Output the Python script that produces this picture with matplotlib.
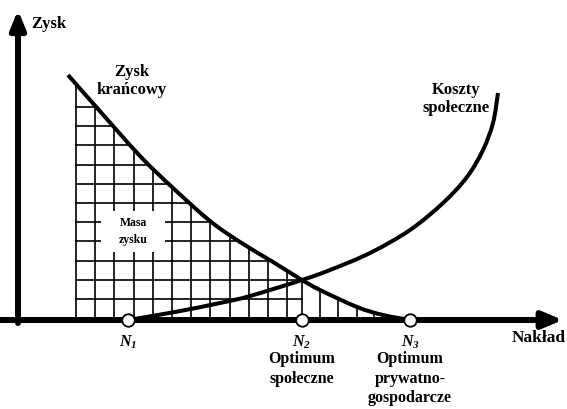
import numpy as np
import matplotlib
matplotlib.use("Agg")
import matplotlib.pyplot as plt
from matplotlib.patches import PathPatch, Rectangle
from matplotlib.path import Path

plt.rcParams['font.family'] = ['Liberation Serif', 'DejaVu Serif']
plt.rcParams['font.weight'] = 'bold'
plt.rcParams['mathtext.fontset'] = 'custom'
plt.rcParams['mathtext.rm'] = 'Liberation Serif:bold:italic'
plt.rcParams['mathtext.it'] = 'Liberation Serif:bold:italic'

# krzywa zysku krancowego (naklad, zysk)
zysk_x = [50, 80, 122, 155, 192, 222, 255, 284, 302, 339, 365, 392]
zysk_y = [245, 211, 164, 132, 99, 78, 58, 40, 30, 13, 5, 0]

# krzywa kosztow spolecznych
koszty_x = [110, 157, 202, 232, 284, 312, 352, 392, 425, 449, 465, 475, 480]
koszty_y = [0, 8, 17, 24, 40, 50, 67, 90, 117, 143, 170, 197, 227]

# punkty N1, N2, N3 na osi nakladu
punkty_x = [110, 284, 392]
punkty_lbl = [r'$N_1$', r'$N_2$', r'$N_3$']
punkty_opis = ['', 'Optimum\nspołeczne', 'Optimum\nprywatno-\ngospodarcze']

# siatka "masa zysku"
siatka_x = np.arange(58, 280, 19.2)
siatka_x_prawa = [302, 320, 339, 356, 374]
siatka_y = np.arange(21, 215, 19.2)


def gladka(xs, ys):
    # krzywa Beziera przez odczytane punkty (Catmull-Rom)
    p = np.column_stack([xs, ys]).astype(float)
    n = len(p)
    verts = [p[0]]
    codes = [Path.MOVETO]
    for i in range(n - 1):
        p0 = p[max(i - 1, 0)]
        p1 = p[i]
        p2 = p[i + 1]
        p3 = p[min(i + 2, n - 1)]
        verts += [p1 + (p2 - p0) / 6, p2 - (p3 - p1) / 6, p2]
        codes += [Path.CURVE4] * 3
    return verts, codes


fig = plt.figure(figsize=(5.67, 4.09), dpi=100)
ax = fig.add_axes([0, 0, 1, 1])
ax.set_xlim(-18, 549)
ax.set_ylim(-89, 320)
ax.axis('off')

zv, zc = gladka(zysk_x, zysk_y)
kv, kc = gladka(koszty_x, koszty_y)

# obszar przyciecia siatki pod krzywa zysku
clip = PathPatch(Path(zv + [(50, 0), (0, 0)], zc + [Path.LINETO, Path.CLOSEPOLY]),
                 transform=ax.transData, facecolor='none', edgecolor='none')
ax.add_patch(clip)

for y in siatka_y:
    ln, = ax.plot([58, punkty_x[1]], [y, y], color='black', lw=1.2, zorder=1)
    ln.set_clip_path(clip)
for x in list(siatka_x) + [punkty_x[1]] + siatka_x_prawa:
    ln, = ax.plot([x, x], [0, 260], color='black', lw=1.2, zorder=1)
    ln.set_clip_path(clip)

# okienko na napis
ax.add_patch(Rectangle((83, 68), 64, 41, facecolor='white', edgecolor='none', zorder=2))
ax.text(115, 97, 'Masa', ha='center', va='center', fontsize=8.5, zorder=3)
ax.text(115, 80, 'zysku', ha='center', va='center', fontsize=8.5, zorder=3)

ax.add_patch(PathPatch(Path(zv, zc), facecolor='none', edgecolor='black', lw=2.9,
                       capstyle='butt', zorder=3))
ax.add_patch(PathPatch(Path(kv, kc), facecolor='none', edgecolor='black', lw=2.9,
                       capstyle='butt', zorder=3))

# osie
ax.annotate('', xy=(545, 0), xytext=(-18, 0),
            arrowprops=dict(arrowstyle='-|>,head_length=1.2,head_width=0.5',
                            lw=4.3, color='black', mutation_scale=10,
                            shrinkA=0, shrinkB=0), zorder=4)
ax.annotate('', xy=(0, 310), xytext=(0, -3),
            arrowprops=dict(arrowstyle='-|>,head_length=1.1,head_width=0.45',
                            lw=4.3, color='black', mutation_scale=10,
                            shrinkA=0, shrinkB=0), zorder=4)

ax.plot(punkty_x, [0] * len(punkty_x), 'o', ms=9, mfc='white', mec='black',
        mew=1.3, zorder=5, clip_on=False)

for x, lbl, opis in zip(punkty_x, punkty_lbl, punkty_opis):
    ax.text(x, -22, lbl, ha='center', va='center', fontsize=11.5)
    if opis:
        ax.text(x, -31, opis, ha='center', va='top', fontsize=11.5, linespacing=1.3)

ax.text(13, 296, 'Zysk', ha='left', va='center', fontsize=12)
ax.text(521, -18, 'Nakład', ha='center', va='center', fontsize=12.5)
ax.text(114, 239, 'Zysk\nkrańcowy', ha='center', va='center', fontsize=12,
        linespacing=1.25)
ax.text(438, 221, 'Koszty\nspołeczne', ha='center', va='center', fontsize=12,
        linespacing=1.25)

fig.savefig('out.png', dpi=100)
